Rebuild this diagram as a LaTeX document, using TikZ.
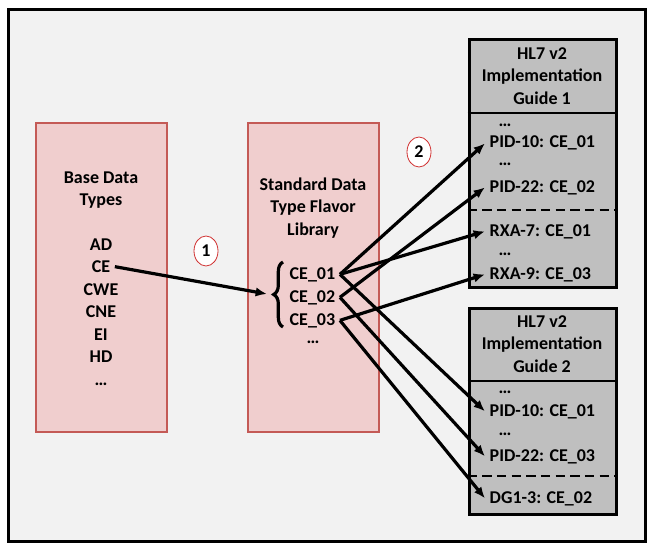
\documentclass[tikz,border=0pt]{standalone}
\usepackage{fontspec}
\setmainfont{Carlito}
\usepackage{tikz}
\usetikzlibrary{positioning, shapes.geometric, arrows.meta, decorations.pathreplacing}
\definecolor{pinkfill}{HTML}{F0CECE}
\definecolor{pinkline}{HTML}{C45A56}
\definecolor{guidefill}{HTML}{BFBFBF}
\definecolor{panel}{HTML}{F2F2F2}
\definecolor{numline}{HTML}{D03030}

\begin{document}
\begin{tikzpicture}[x=0.75pt, y=-0.75pt,
        every node/.style={font=\fontsize{13.5}{16.9}\selectfont\bfseries},
        libbox/.style={draw=pinkline, fill=pinkfill, line width=2pt, minimum width=98.25pt, minimum height=231.75pt},
        guidebox/.style={draw=black, fill=guidefill, line width=2.25pt, minimum width=110.25pt},
        item/.style={anchor=base west},
        sep/.style={line width=1.5pt, dash pattern=on 7pt off 4pt},
        num/.style={ellipse, draw=numline, fill=white, line width=0.6pt, minimum width=18pt, minimum height=22.5pt, inner sep=0pt},
        link/.style={line width=2.4pt, -{Latex[length=8.5pt,width=7pt]}}]
        \useasboundingbox (0,0) rectangle (653,549);
        \draw[line width=2.25pt, fill=panel] (8,10) rectangle (645,541);
        \node[libbox] (base) at (101.5,277.5) {};
        \node[libbox] (lib) at (313.5,277.5) {};
        \node[guidebox, minimum height=185.25pt] (ig1) at (542.5,163.5) {};
        \node[guidebox, minimum height=154.5pt] (ig2) at (542.5,411) {};
        \draw[line width=2pt] (ig1.west |- 0,113) -- (ig1.east |- 0,113);
        \draw[sep] (ig1.west |- 0,210) -- (ig1.east |- 0,210);
        \draw[line width=2pt] (ig2.west |- 0,381) -- (ig2.east |- 0,381);
        \draw[sep] (ig2.west |- 0,476) -- (ig2.east |- 0,476);
        \node[align=center] (basetitle) at (101,190) {Base Data\\Types};
        \foreach \t [count=\i] in {AD,CE,CWE,CNE,EI,HD,…}
            \node[anchor=base] (bt\i) at (101, 227.5+\i*22.5) {\t};
        \node[align=center] (libtitle) at (313,208) {Standard Data\\Type Flavor\\Library};
        \node[item] (ce01) at (285,279) {CE\_01};
        \node[item] (ce02) at (285,302) {CE\_02};
        \node[item] (ce03) at (285,325) {CE\_03};
        \node[anchor=base] (libdots) at (313,343) {…};
        \draw[line width=2.4pt, decorate, decoration={brace, amplitude=7pt}] (283,327) -- (283,262);
        \coordinate (bracetip) at (267,294);
        \node[align=center] (ig1title) at (542,76) {HL7 v2\\Implementation\\Guide 1};
        \node[item] (g1d1) at (494,127) {…};
        \node[item] (pid10a) at (485,148) {PID-10: CE\_01};
        \node[item] (g1d2) at (494,166) {…};
        \node[item] (pid22a) at (485,192) {PID-22: CE\_02};
        \node[item] (rxa7) at (485,236) {RXA-7: CE\_01};
        \node[item] (g1d3) at (494,255) {…};
        \node[item] (rxa9) at (485,279) {RXA-9: CE\_03};
        \node[align=center] (ig2title) at (542,344) {HL7 v2\\Implementation\\Guide 2};
        \node[item] (g2d1) at (494,393) {…};
        \node[item] (pid10b) at (485,416) {PID-10: CE\_01};
        \node[item] (g2d2) at (494,435) {…};
        \node[item] (pid22b) at (485,461) {PID-22: CE\_03};
        \node[item] (dg13) at (485,503) {DG1-3: CE\_02};
        \node[num] (step1) at (206,251) {1};
        \node[num] (step2) at (419,152) {2};
        \draw[link] (bt2.east) -- (bracetip);
        \draw[link] (ce01.east) -- (pid10a.west);
        \draw[link] (ce01.east) -- (rxa7.west);
        \draw[link] (ce01.east) -- (pid10b.west);
        \draw[link] (ce02.east) -- (pid22a.west);
        \draw[link] (ce02.east) -- (pid22b.west);
        \draw[link] (ce03.east) -- (rxa9.west);
        \draw[link] (ce03.east) -- (dg13.west);
        \end{tikzpicture}
\end{document}
